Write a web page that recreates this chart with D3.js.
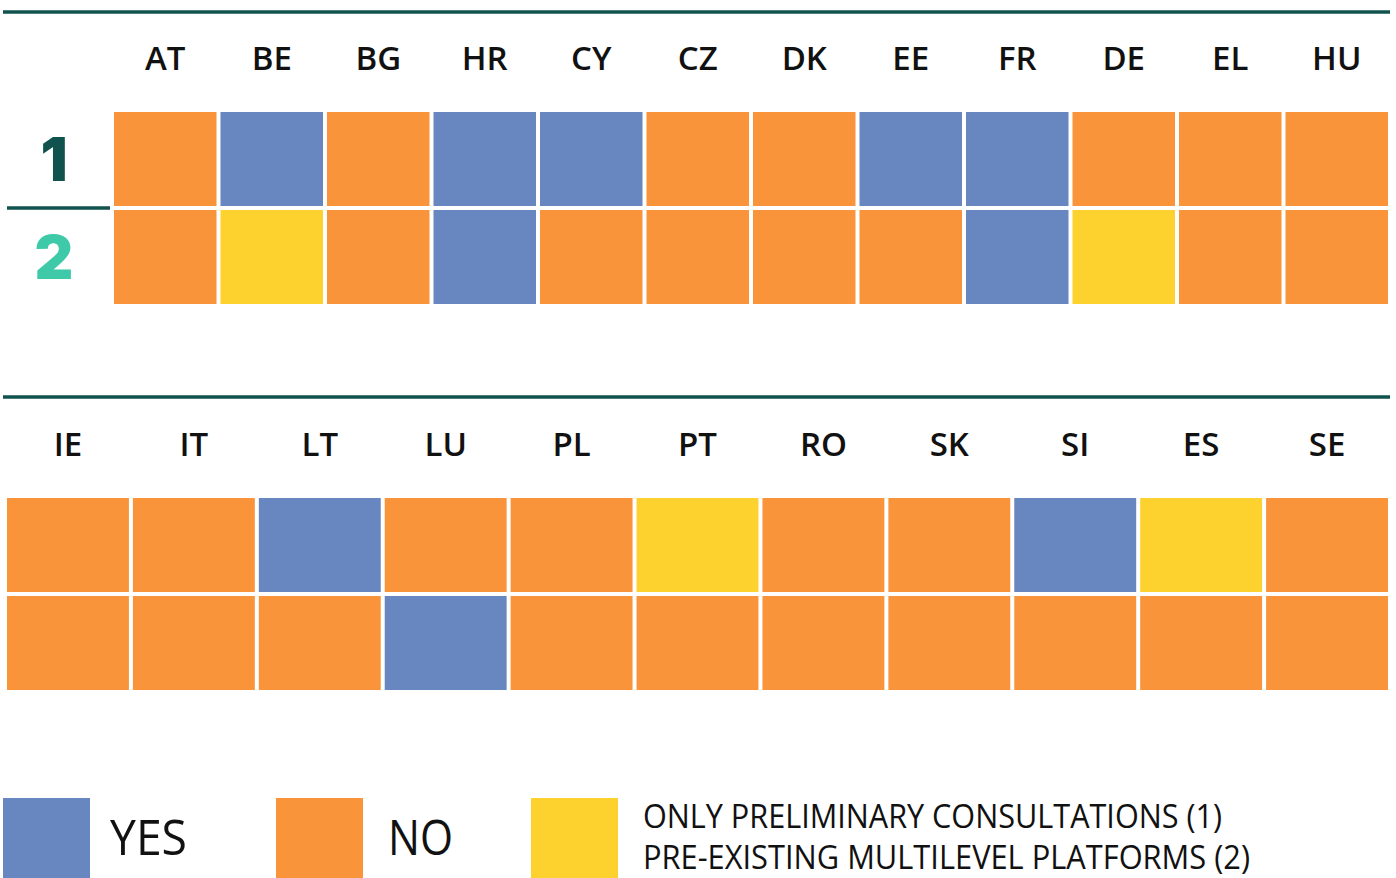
<!DOCTYPE html>
<html><head><meta charset="utf-8">
<script src="https://cdn.jsdelivr.net/npm/d3@7"></script>
<style>html,body{margin:0;padding:0;background:#fff;overflow:hidden}</style>
</head><body>
<svg id="c" width="1396" height="878"></svg>
<script>
const topCountries = ["AT","BE","BG","HR","CY","CZ","DK","EE","FR","DE","EL","HU"];
const topRow1 = ["no","yes","no","yes","yes","no","no","yes","yes","no","no","no"];
const topRow2 = ["no","partial","no","yes","no","no","no","no","yes","partial","no","no"];
const bottomCountries = ["IE","IT","LT","LU","PL","PT","RO","SK","SI","ES","SE"];
const bottomRow1 = ["no","no","yes","no","no","partial","no","no","yes","partial","no"];
const bottomRow2 = ["no","no","no","yes","no","no","no","no","no","no","no"];
const rowLabels = ["1","2"];
const legendKeys = ["yes","no","partial"];
const legendLabels = ["YES","NO",["ONLY PRELIMINARY CONSULTATIONS (1)","PRE-EXISTING MULTILEVEL PLATFORMS (2)"]];

const color = d3.scaleOrdinal().domain(["yes","no","partial"]).range(["#6886BF","#F9943B","#FDD12E"]);
const dark = "#10524D", light = "#3EC9A9";
const svg = d3.select("#c");
const font = "'Open Sans', sans-serif";
const narrow = "'Liberation Sans Narrow', 'Open Sans', sans-serif";

function panel(countries, rows, x0, x1, yLine, yLabel, y0) {
  svg.append("line").attr("x1",3).attr("x2",1390).attr("y1",yLine).attr("y2",yLine)
    .attr("stroke",dark).attr("stroke-width",3.5);
  const x = d3.scaleBand().domain(countries).range([x0, x1 + 4]).paddingInner(0).paddingOuter(0);
  const y = d3.scaleBand().domain(d3.range(rows.length)).range([y0, y0 + 98*rows.length]);
  const g = svg.append("g");
  g.selectAll("text.cl").data(countries).join("text")
    .attr("x", d => x(d) + (x.bandwidth()-4)/2).attr("y", yLabel)
    .attr("text-anchor","middle").attr("font-family",font).attr("font-weight",600)
    .attr("font-size",33).attr("fill","#111").text(d => d);
  rows.forEach((r, i) => {
    g.selectAll("rect.r"+i).data(r.map((v,j)=>({c:countries[j],v}))).join("rect")
      .attr("x", d => x(d.c)).attr("y", y(i)).attr("width", x.bandwidth()-4).attr("height", y.bandwidth()-4)
      .attr("fill", d => color(d.v));
  });
  return y;
}

const yTop = panel(topCountries, [topRow1, topRow2], 114, 1388, 12, 70, 112);
panel(bottomCountries, [bottomRow1, bottomRow2], 7, 1388, 397, 456, 498);

// row labels
svg.append("line").attr("x1",7).attr("x2",110).attr("y1",208).attr("y2",208).attr("stroke",dark).attr("stroke-width",3.5);
svg.selectAll("text.rl").data(rowLabels).join("text")
  .attr("x",54).attr("y",(d,i)=> yTop(i) + 69)
  .attr("text-anchor","middle").attr("font-family","Inter, sans-serif").attr("font-weight",900)
  .attr("font-size",60).attr("fill",(d,i)=> i===0?dark:light).text(d=>d);

// legend
const lx = [3, 276, 531];
const lg = svg.append("g");
legendKeys.forEach((k,i)=>{
  lg.append("rect").attr("x",lx[i]).attr("y",798).attr("width",87).attr("height",80).attr("fill",color(k));
});
lg.append("text").attr("x",110).attr("y",855).attr("font-family",narrow).attr("font-size",50)
  .attr("textLength",77).attr("lengthAdjust","spacingAndGlyphs").attr("fill","#111").text(legendLabels[0]);
lg.append("text").attr("x",388).attr("y",855).attr("font-family",narrow).attr("font-size",50)
  .attr("textLength",65).attr("lengthAdjust","spacingAndGlyphs").attr("fill","#111").text(legendLabels[1]);
lg.append("text").attr("x",643).attr("y",828).attr("font-family",narrow).attr("font-size",33)
  .attr("textLength",579).attr("lengthAdjust","spacingAndGlyphs").attr("fill","#111").text(legendLabels[2][0]);
lg.append("text").attr("x",643).attr("y",869).attr("font-family",narrow).attr("font-size",33)
  .attr("textLength",607).attr("lengthAdjust","spacingAndGlyphs").attr("fill","#111").text(legendLabels[2][1]);
</script>
</body></html>
